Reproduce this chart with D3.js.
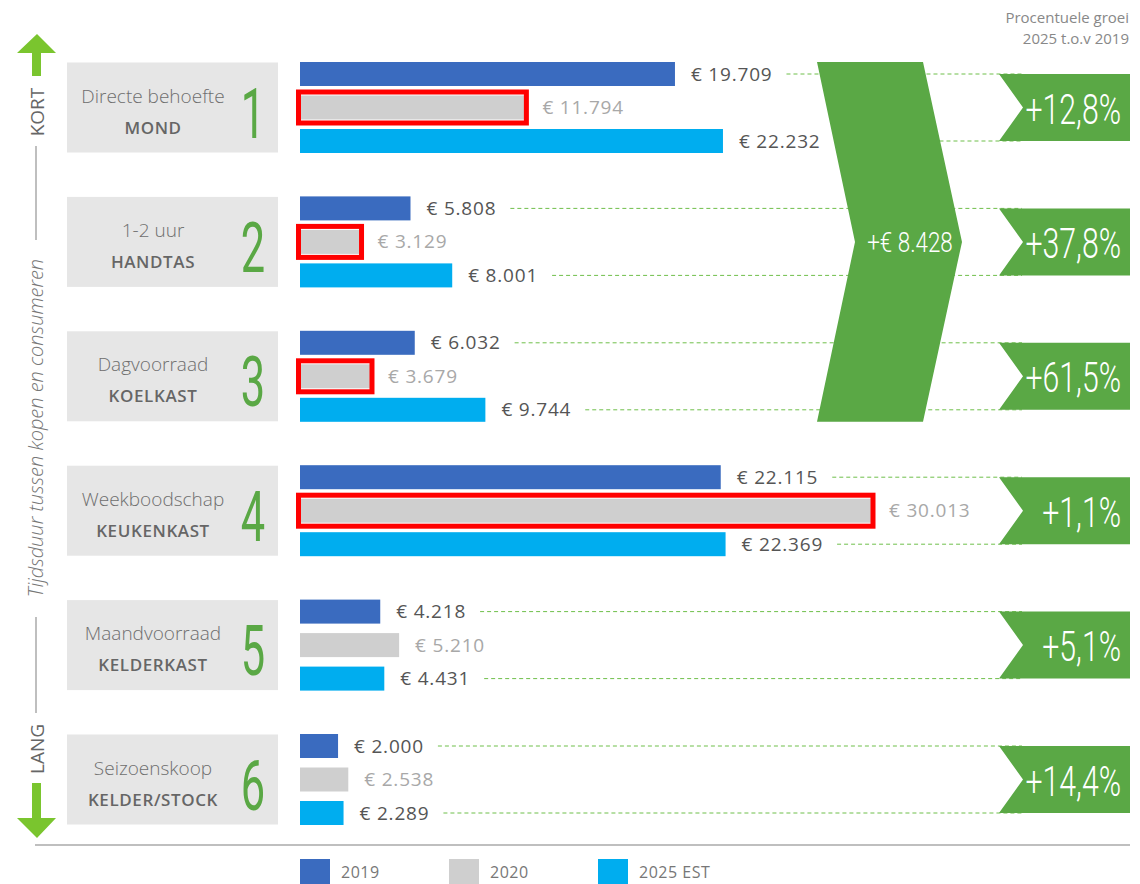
<!DOCTYPE html>
<html>
<head>
<meta charset="utf-8">
<script src="https://cdn.jsdelivr.net/npm/d3@7"></script>
<style>
  body { margin: 0; background: #fff; }
  svg { display: block; font-family: "Open Sans", sans-serif; }
  .narrow { font-family: Roboto, "Open Sans", sans-serif; }
</style>
</head>
<body>
<div id="chart"></div>
<script>
// data
var categories = ["Directe behoefte", "1-2 uur", "Dagvoorraad", "Weekboodschap", "Maandvoorraad", "Seizoenskoop"];
var places = ["MOND", "HANDTAS", "KOELKAST", "KEUKENKAST", "KELDERKAST", "KELDER/STOCK"];
var years = ["2019", "2020", "2025 EST"];
var values2019 = [19709, 5808, 6032, 22115, 4218, 2000];
var values2020 = [11794, 3129, 3679, 30013, 5210, 2538];
var values2025 = [22232, 8001, 9744, 22369, 4431, 2289];
var growth = ["+12,8%", "+37,8%", "+61,5%", "+1,1%", "+5,1%", "+14,4%"];
var highlighted = [true, true, true, true, false, false];
var bracketGroups = [0, 1, 2]; // groups in the big green chevron

var colors = { "2019": "#3a6bbf", "2020": "#cfcfcf", "2025 EST": "#00adef" };
var green = "#5aa845";
var arrowGreen = "#7ac52e";

var svgWidth = 1140;
var svgHeight = 884;

var svg = d3.select("#chart")
  .append("svg")
  .attr("width", svgWidth)
  .attr("height", svgHeight);

var nl = d3.formatLocale({ decimal: ",", thousands: ".", grouping: [3], currency: ["€ ", ""] });
var fmt = nl.format(",");

// condensed looking text: squeeze a font horizontally
function narrowText(sel, px, py, size, sx, anchor, fill, txt, weight) {
  return sel.append("text")
    .attr("class", "narrow")
    .attr("transform", `translate(${px},${py}) scale(${sx},1)`)
    .attr("text-anchor", anchor)
    .attr("font-size", size + "px")
    .attr("font-weight", weight || 300)
    .attr("fill", fill)
    .text(txt);
}

// scales
var x = d3.scaleLinear()
  .domain([0, d3.max(values2020.concat(values2019, values2025))])
  .range([300, 871]);
var y = d3.scalePoint()
  .domain(categories)
  .range([107.5, 779.5]);
var sub = d3.scalePoint()
  .domain(years)
  .range([-33.5, 33.5]);
var barH = 24;

// build rows
var rows = [];
categories.forEach(function(c, i) {
  [values2019, values2020, values2025].forEach(function(arr, j) {
    rows.push({ cat: c, i: i, year: years[j], value: arr[i] });
  });
});
function rowY(d) { return y(d.cat) + sub(d.year); }

// category boxes
var boxes = svg.append("g");
categories.forEach(function(c, i) {
  var cy = y(c);
  boxes.append("rect")
    .attr("x", 67).attr("y", cy - 45)
    .attr("width", 211).attr("height", 90)
    .attr("fill", "#e6e6e6");
  boxes.append("text")
    .attr("x", 153).attr("y", cy - 5)
    .attr("text-anchor", "middle")
    .attr("font-size", "19px")
    .attr("font-weight", 300)
    .attr("fill", "#6e6e6e")
    .text(c);
  boxes.append("text")
    .attr("x", 153).attr("y", cy + 26)
    .attr("text-anchor", "middle")
    .attr("font-size", "17px")
    .attr("font-weight", 600)
    .attr("letter-spacing", "0.6px")
    .attr("fill", "#666")
    .text(places[i]);
  narrowText(boxes, 253, cy + 30, 70, 0.62, "middle", green, i + 1, 400);
});

// dashed guide lines (drawn first, labels measured later)
var guides = svg.append("g");

// bars
var chartGroup = svg.append("g");
chartGroup.selectAll("rect.bar")
  .data(rows)
  .enter()
  .append("rect")
  .attr("class", "bar")
  .attr("x", x(0))
  .attr("y", d => rowY(d) - barH / 2)
  .attr("width", d => x(d.value) - x(0))
  .attr("height", barH)
  .attr("fill", d => colors[d.year]);

// red highlight around 2020 bars
chartGroup.selectAll("rect.hl")
  .data(rows.filter(d => d.year === "2020" && highlighted[d.i]))
  .enter()
  .append("rect")
  .attr("class", "hl")
  .attr("x", x(0) - 1.5)
  .attr("y", d => rowY(d) - barH / 2 - 3.5)
  .attr("width", d => x(d.value) - x(0) + 3.5)
  .attr("height", barH + 7)
  .attr("fill", "none")
  .attr("stroke", "#ff0000")
  .attr("stroke-width", 5);

// value labels
var labels = chartGroup.selectAll("text.val")
  .data(rows)
  .enter()
  .append("text")
  .attr("class", "val")
  .attr("x", d => x(d.value) + (d.year === "2020" && highlighted[d.i] ? 18 : 16))
  .attr("y", d => rowY(d) + 6.5)
  .attr("font-size", "19px")
  .attr("letter-spacing", "0.8px")
  .attr("font-weight", 400)
  .attr("fill", d => d.year === "2020" ? "#a8a8a8" : "#555")
  .text(d => "€ " + fmt(d.value));

labels.filter(d => d.year !== "2020").each(function(d) {
  var end = this.getComputedTextLength() + (+d3.select(this).attr("x"));
  guides.append("line")
    .attr("x1", end + 14).attr("x2", 1022)
    .attr("y1", rowY(d)).attr("y2", rowY(d))
    .attr("stroke", "#6fbf4a")
    .attr("stroke-width", 1)
    .attr("stroke-dasharray", "4,3");
});

// big chevron
var top0 = y(categories[bracketGroups[0]]) + sub("2019") - barH / 2;
var bot0 = y(categories[bracketGroups[2]]) + sub("2025 EST") + barH / 2;
var mid0 = (top0 + bot0) / 2;
var total = d3.sum(bracketGroups, i => values2025[i]) - d3.sum(bracketGroups, i => values2019[i]);
svg.append("path")
  .attr("d", `M817,${top0} L923,${top0} L962,${mid0} L923,${bot0} L817,${bot0} L855,${mid0} Z`)
  .attr("fill", green);
narrowText(svg, 910, mid0 + 10, 28, 0.8, "middle", "#fff", "+€ " + fmt(total));

// growth boxes
categories.forEach(function(c, i) {
  var t = y(c) + sub("2019");
  var b = y(c) + sub("2025 EST");
  var m = (t + b) / 2;
  svg.append("path")
    .attr("d", `M999,${t} L1130,${t} L1130,${b} L999,${b} L1023,${m} Z`)
    .attr("fill", green);
  narrowText(svg, 1121, m + 16, 42, 0.72, "end", "#fff", growth[i]);
});

// title top right
svg.append("text")
  .attr("x", 1129).attr("y", 23)
  .attr("text-anchor", "end")
  .attr("font-size", "15px")
  .attr("fill", "#888")
  .text("Procentuele groei");
svg.append("text")
  .attr("x", 1129).attr("y", 44)
  .attr("text-anchor", "end")
  .attr("font-size", "15px")
  .attr("fill", "#888")
  .text("2025 t.o.v 2019");

// left time axis
var axisG = svg.append("g");
axisG.append("path")
  .attr("d", "M37,34 L56,53 L41,53 L41,76 L32,76 L32,53 L17,53 Z")
  .attr("fill", arrowGreen);
axisG.append("path")
  .attr("d", "M37,838 L56,818 L41,818 L41,783 L32,783 L32,818 L17,818 Z")
  .attr("fill", arrowGreen);
axisG.append("line").attr("x1", 36).attr("x2", 36).attr("y1", 146).attr("y2", 240)
  .attr("stroke", "#aaa").attr("stroke-width", 1.5);
axisG.append("line").attr("x1", 36).attr("x2", 36).attr("y1", 617).attr("y2", 713)
  .attr("stroke", "#aaa").attr("stroke-width", 1.5);
axisG.append("text")
  .attr("transform", "translate(44,112) rotate(-90)")
  .attr("text-anchor", "middle")
  .attr("font-size", "19px")
  .attr("fill", "#666")
  .text("KORT");
axisG.append("text")
  .attr("transform", "translate(44,749) rotate(-90)")
  .attr("text-anchor", "middle")
  .attr("font-size", "19px")
  .attr("fill", "#666")
  .text("LANG");
axisG.append("text")
  .attr("transform", "translate(43,428) rotate(-90)")
  .attr("text-anchor", "middle")
  .attr("font-size", "20px")
  .attr("font-style", "italic")
  .attr("font-weight", 300)
  .attr("fill", "#777")
  .text("Tijdsduur tussen kopen en consumeren");

// bottom line
svg.append("line")
  .attr("x1", 35).attr("x2", 1130)
  .attr("y1", 845).attr("y2", 845)
  .attr("stroke", "#aaa").attr("stroke-width", 1.5);

// legend
var legendX = d3.scalePoint().domain(years).range([300, 598]);
var legend = svg.append("g").selectAll("g")
  .data(years)
  .enter()
  .append("g")
  .attr("transform", d => `translate(${legendX(d)}, 859)`);
legend.append("rect")
  .attr("width", 30).attr("height", 25)
  .attr("fill", d => colors[d]);
legend.append("text")
  .attr("x", 41).attr("y", 19)
  .attr("font-size", "16px")
  .attr("letter-spacing", "0.5px")
  .attr("fill", "#777")
  .text(d => d);
</script>
</body>
</html>
